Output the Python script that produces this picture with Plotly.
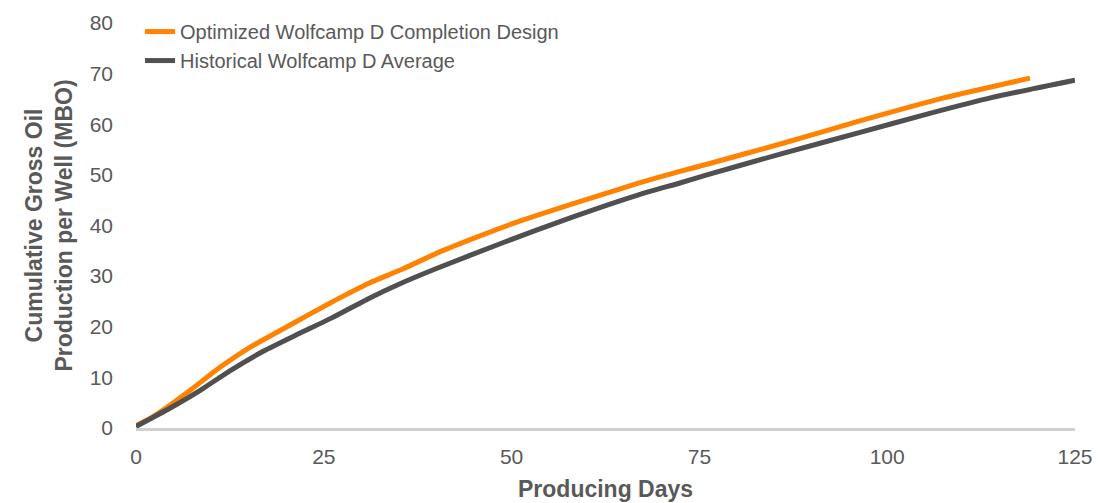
import plotly.graph_objects as go

# Optimized Wolfcamp D Completion Design
opt_days = [0, 2, 4.5, 7, 11, 15, 19, 23, 27, 31, 35.5, 40, 45, 50, 58, 67, 72.4, 76, 86, 96, 107.5, 119]
opt_mbo = [0.5, 2.0, 4.5, 7.2, 11.8, 15.8, 19.1, 22.4, 25.6, 28.6, 31.4, 34.5, 37.5, 40.3, 44.2, 48.4, 50.7, 52.1, 56.2, 60.5, 65.2, 69.1]

# Historical Wolfcamp D Average
hist_days = [0, 4.5, 8.5, 12.5, 17, 21.5, 26, 31, 35, 40, 49, 58, 67, 72.4, 76, 86, 96.4, 105.3, 114, 125]
hist_mbo = [0.3, 3.9, 7.4, 11.3, 15.2, 18.5, 21.7, 25.6, 28.4, 31.5, 36.7, 41.6, 46.1, 48.4, 50.0, 54.2, 58.4, 62.0, 65.3, 68.7]

x_ticks = [0, 25, 50, 75, 100, 125]
y_ticks = [0, 10, 20, 30, 40, 50, 60, 70, 80]

ORANGE = "#FF8200"
DARK = "#505050"
TXT = "#595959"
FONT = "Liberation Sans, Arial, sans-serif"

W, H = 1120, 503

fig = go.Figure()
fig.add_trace(go.Scatter(x=opt_days, y=opt_mbo, mode="lines",
                         name="Optimized Wolfcamp D Completion Design",
                         line=dict(color=ORANGE, width=5, shape="spline", smoothing=0.5)))
fig.add_trace(go.Scatter(x=hist_days, y=hist_mbo, mode="lines",
                         name="Historical Wolfcamp D Average",
                         line=dict(color=DARK, width=5, shape="spline", smoothing=0.5)))

fig.update_layout(
    width=W, height=H,
    margin=dict(l=136, r=45, t=18, b=75),
    paper_bgcolor="white", plot_bgcolor="white",
    font=dict(family=FONT, color=TXT, size=21),
    hovermode=False,
    showlegend=True,
    legend=dict(x=0.0043, y=1.027, xanchor="left", yanchor="top",
                bgcolor="rgba(0,0,0,0)", font=dict(size=20, color=TXT),
                tracegroupgap=0, itemwidth=30),
    xaxis=dict(range=[0, 125], tickvals=x_ticks, ticktext=[str(v) for v in x_ticks],
               automargin=False, ticklabeloverflow="allow",
               showgrid=False, zeroline=False, showline=True, linecolor="#D0D0D0", linewidth=3,
               ticks="", ticklabelstandoff=8, tickfont=dict(size=21, color=TXT)),
    yaxis=dict(range=[0, 80], tickvals=y_ticks, ticktext=[str(v) for v in y_ticks],
               automargin=True, ticklabeloverflow="allow",
               showgrid=False, zeroline=False, showline=False, ticks="", ticklabelstandoff=22,
               tickfont=dict(size=21, color=TXT),
               title=dict(text="<b>Cumulative Gross Oil<br>Production per Well (MBO)</b>",
                          font=dict(size=23, color=TXT), standoff=10)),
    annotations=[dict(text="<b>Producing Days</b>", xref="paper", yref="paper",
                      x=0.5, y=-(62 / 410), xanchor="center", yanchor="middle",
                      showarrow=False, font=dict(size=23, color=TXT, family=FONT))],
)

fig.write_html("out.html", config={"displayModeBar": False},
               post_script="document.body.style.margin='0px';")
